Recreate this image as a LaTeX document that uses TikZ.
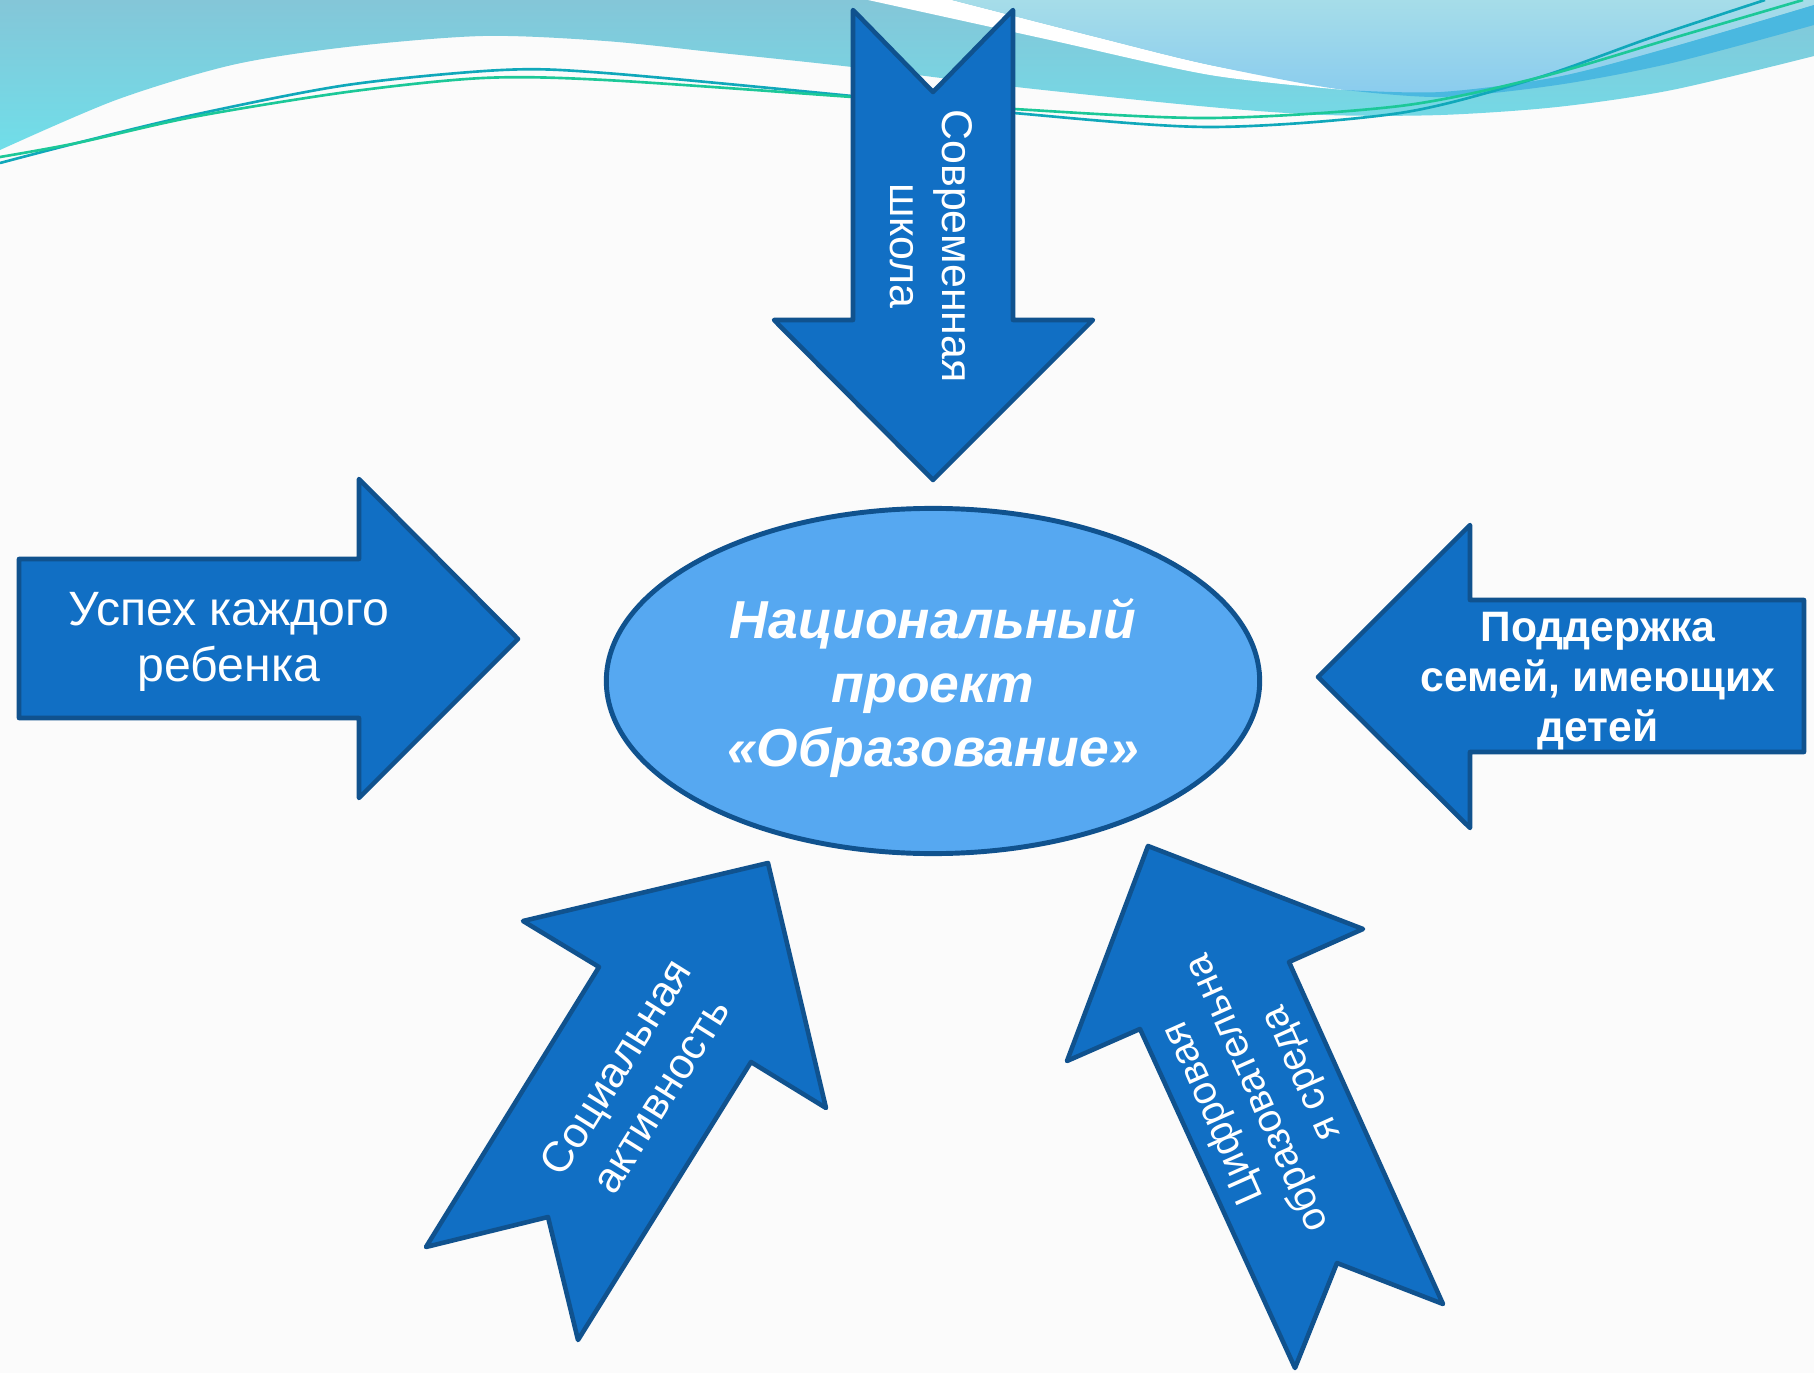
\documentclass[tikz,border=0pt]{standalone}
\usepackage{fontspec}
\setmainfont{Liberation Sans}
\usetikzlibrary{shapes.geometric}

\definecolor{arrowblue}{RGB}{17,111,196}
\definecolor{arrowedge}{RGB}{16,82,142}
\definecolor{ovalblue}{RGB}{86,168,241}
\definecolor{pagebg}{RGB}{251,251,251}
\definecolor{wavetop}{RGB}{132,198,216}
\definecolor{waveteal}{RGB}{112,222,233}
\definecolor{skyhi}{RGB}{166,221,233}
\definecolor{skylo}{RGB}{138,204,238}
\definecolor{bandblue}{RGB}{74,184,224}
\definecolor{tealline}{RGB}{16,168,186}
\definecolor{greenline}{RGB}{28,200,152}

\tikzset{
  blockarrow/.style={fill=arrowblue, draw=arrowedge, line width=1.3pt, line join=round},
  arrowlabel/.style={text=white, align=center, inner sep=0pt},
  swirl/.style={line width=0.75pt},
}

\begin{document}
\begin{tikzpicture}[x=0.01cm, y=-0.01cm]
        \useasboundingbox (0,0) rectangle (1814,1373);
        \fill[pagebg] (0,0) rectangle (1814,1373);
        % waves on top
        \shade[top color=wavetop, bottom color=waveteal] (0,0) -- plot[smooth] coordinates {(0,150) (116,100) (232,65) (347,47) (483,36) (605,41) (721,53) (852,67) (1016,87) (1210,107) (1326,115) (1441,115) (1557,107) (1672,90) (1814,56)} -- (1814,0) -- cycle;
        \fill[white] plot[smooth] coordinates {(868,0) (1050,40) (1210,75) (1345,90)} -- plot[smooth] coordinates {(1345,90) (1210,65) (1100,38) (952,0)} -- cycle;
        \shade[top color=skyhi, bottom color=skylo] plot[smooth] coordinates {(952,0) (1100,38) (1210,65) (1345,90) (1441,92) (1557,77) (1672,47) (1814,5)} -- (1814,0) -- cycle;
        \fill[bandblue] plot[smooth] coordinates {(1345,90) (1441,97) (1557,85) (1672,63) (1814,25)} -- plot[smooth] coordinates {(1814,5) (1672,47) (1557,77) (1441,92) (1345,90)} -- cycle;
        \draw[swirl, tealline] plot[smooth] coordinates {(0,163) (77,143) (193,115) (347,85) (502,70) (605,73) (852,96) (1014,113) (1210,127) (1400,113) (1537,78) (1650,38) (1765,0)};
        \draw[swirl, greenline] plot[smooth] coordinates {(0,157) (77,143) (193,117) (347,92) (483,78) (605,80) (852,97) (1014,109) (1210,118) (1400,106) (1537,78) (1680,36) (1803,0)};
        % the five arrows
        \filldraw[blockarrow] (853,10) -- (933,92) -- (1013,10) -- (1013,320) -- (1093,320) -- (933,480) -- (774,320) -- (853,320) -- cycle;
        \filldraw[blockarrow] (19,559) -- (359,559) -- (359,479) -- (518,639) -- (359,798) -- (359,718) -- (19,718) -- cycle;
        \filldraw[blockarrow] (1804,600) -- (1470,600) -- (1470,525) -- (1318,677) -- (1470,828) -- (1470,752) -- (1804,752) -- cycle;
        \filldraw[blockarrow] (768,863) -- (826,1108) -- (751,1062) -- (578,1340) -- (548,1217) -- (426,1247) -- (599,967) -- (523,921) -- cycle;
        \filldraw[blockarrow] (1148,846) -- (1363,929) -- (1289,962) -- (1443,1304) -- (1337,1263) -- (1295,1368) -- (1140,1029) -- (1067,1061) -- cycle;
        % centre
        \node[ellipse, draw=arrowedge, fill=ovalblue, line width=1.4pt, minimum width=6.53cm, minimum height=3.45cm, inner sep=0pt] (proj) at (933,681) {};
        \node[arrowlabel, yshift=-2pt, font={\bfseries\itshape\fontsize{15.2}{18.2}\selectfont}] (projtitle) at (proj) {Национальный\\проект\\«Образование»};
        \node[arrowlabel, rotate=-90, font={\fontsize{12.2}{14.8}\selectfont}] (shkola) at (931,246) {Современная\\школа};
        \node[arrowlabel, font={\fontsize{13.7}{15.8}\selectfont}] (uspeh) at (229,642) {Успех каждого\\ребенка};
        \node[arrowlabel, font={\bfseries\fontsize{12.1}{14.3}\selectfont}] (semya) at (1598,681) {Поддержка\\семей, имеющих\\детей};
        \node[arrowlabel, rotate=58, font={\fontsize{12.2}{15.1}\selectfont}] (socakt) at (638,1081) {Социальная\\активность};
        \node[arrowlabel, rotate=114, font={\fontsize{11.4}{13.7}\selectfont}] (cifra) at (1258,1093) {Цифровая\\образовательна\\я среда};
\end{tikzpicture}
\end{document}
